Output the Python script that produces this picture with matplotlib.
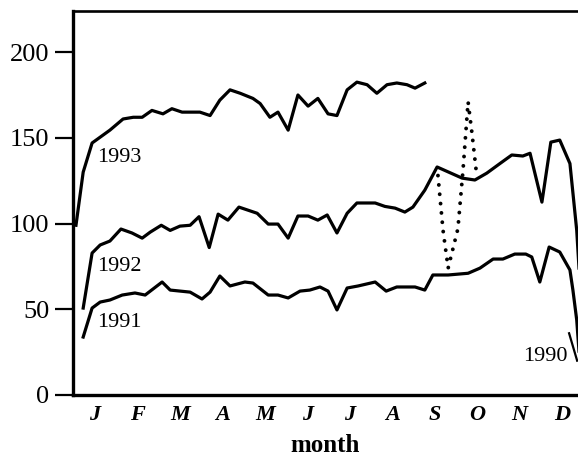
import numpy as np
import matplotlib.pyplot as plt

plt.rcParams['font.family'] = ['Liberation Serif', 'DejaVu Serif']

# x in months (J = 1 ... D = 12)
m1993 = [0.55, 0.72, 0.93, 1.35, 1.66, 1.9, 2.11, 2.34, 2.6, 2.81, 3.05, 3.47, 3.71,
         3.94, 4.18, 4.42, 4.72, 4.89, 5.12, 5.31, 5.55, 5.78, 6.02, 6.25, 6.49, 6.7,
         6.94, 7.17, 7.41, 7.64, 7.88, 8.11, 8.35, 8.54, 8.77]
v1993 = [99, 130, 147, 154.5, 161, 162, 162, 166, 164, 167, 165, 165, 163,
         172, 178, 176, 173, 170, 162, 165, 154.5, 175, 168.5, 173, 164, 163,
         178, 182.5, 181, 176, 181, 182, 181, 179, 182]

m1992 = [0.72, 0.93, 1.12, 1.35, 1.61, 1.87, 2.11, 2.3, 2.56, 2.77, 3.0, 3.24, 3.45,
         3.69, 3.9, 4.13, 4.39, 4.82, 5.08, 5.31, 5.55, 5.78, 6.02, 6.25, 6.47, 6.7,
         6.94, 7.17, 7.6, 7.83, 8.07, 8.3, 8.49, 8.77, 9.06, 9.65, 9.95, 10.23, 10.54,
         10.82, 11.08, 11.25, 11.53, 11.74, 11.95, 12.19, 12.35, 12.45]
v1992 = [50.7, 82.8, 87.5, 89.8, 96.8, 94.5, 91.5, 95, 99, 96, 98.5, 99, 104,
         86, 105.5, 102, 109.6, 106, 99.7, 99.7, 91.5, 104.4, 104.4, 102, 105, 94.5,
         106, 112, 112, 110, 109, 106.7, 109.6, 119.5, 133, 126.5, 125.4, 129.4, 135,
         140, 139.4, 141, 112.5, 147.5, 148.7, 135, 96, 55]

m1991 = [0.72, 0.93, 1.12, 1.35, 1.64, 1.94, 2.18, 2.58, 2.77, 3.24, 3.52, 3.71, 3.94,
         4.18, 4.53, 4.72, 5.08, 5.31, 5.55, 5.83, 6.06, 6.3, 6.49, 6.7, 6.94, 7.2,
         7.6, 7.86, 8.11, 8.54, 8.77, 8.96, 9.32, 9.79, 10.07, 10.38, 10.61, 10.89,
         11.15, 11.29, 11.48, 11.7, 11.95, 12.19, 12.26, 12.35, 12.42]
v1991 = [33.8, 50.7, 54.2, 55.4, 58.3, 59.5, 58.3, 65.9, 61.2, 60, 56, 60, 69.4,
         63.6, 65.9, 65.3, 58.3, 58.3, 56.6, 60.6, 61.2, 63, 60.6, 49.6, 62.4, 63.6,
         65.9, 60.6, 63, 63, 61.2, 70, 70, 71, 74, 79.3, 79.3, 82.2,
         82.2, 80.5, 65.9, 86.3, 83.4, 72.9, 61.2, 43.7, 20]

m1990_dot = [9.08, 9.2, 9.32, 9.55, 9.67, 9.79, 9.88, 9.98]
v1990_dot = [128, 96, 74, 97, 131, 171, 153, 131]
m1990 = [12.17, 12.36]
v1990 = [36, 20]

months = ['J', 'F', 'M', 'A', 'M', 'J', 'J', 'A', 'S', 'O', 'N', 'D']

fig = plt.figure(figsize=(5.78, 4.58), dpi=100)
ax = fig.add_axes([0.1263, 0.1376, 0.8737, 0.8384])

lw = 2.3
ax.plot(m1993, v1993, color='black', lw=lw, solid_joinstyle='round')
ax.plot(m1992, v1992, color='black', lw=lw, solid_joinstyle='round')
ax.plot(m1991, v1991, color='black', lw=lw, solid_joinstyle='round')
ax.plot(m1990, v1990, color='black', lw=1.6)
ax.plot(m1990_dot, v1990_dot, color='black', lw=2.8,
        linestyle=(0, (0.01, 2.4)), dash_capstyle='round')

ax.text(1.05, 138.8, '1993', fontsize=16, ha='left', va='center')
ax.text(1.05, 75.2, '1992', fontsize=16, ha='left', va='center')
ax.text(1.05, 42, '1991', fontsize=16, ha='left', va='center')
ax.text(12.14, 22.2, '1990', fontsize=16, ha='right', va='center')

ax.set_xlim(0.48, 12.38)
ax.set_ylim(0, 224)
ax.set_yticks([0, 50, 100, 150, 200])
ax.set_xticks(range(1, 13))
ax.set_xticklabels(months, fontsize=16, fontweight='bold', fontstyle='italic')
ax.tick_params(axis='y', length=13, width=1.6, pad=4, labelsize=19)
ax.tick_params(axis='x', length=0, pad=7)
ax.set_xlabel('month', fontsize=18, fontweight='bold', labelpad=7)

ax.spines['right'].set_visible(False)
ax.spines['left'].set_linewidth(2.4)
ax.spines['bottom'].set_linewidth(2.4)
ax.spines['top'].set_linewidth(1.9)

fig.savefig('out.png', dpi=100)
